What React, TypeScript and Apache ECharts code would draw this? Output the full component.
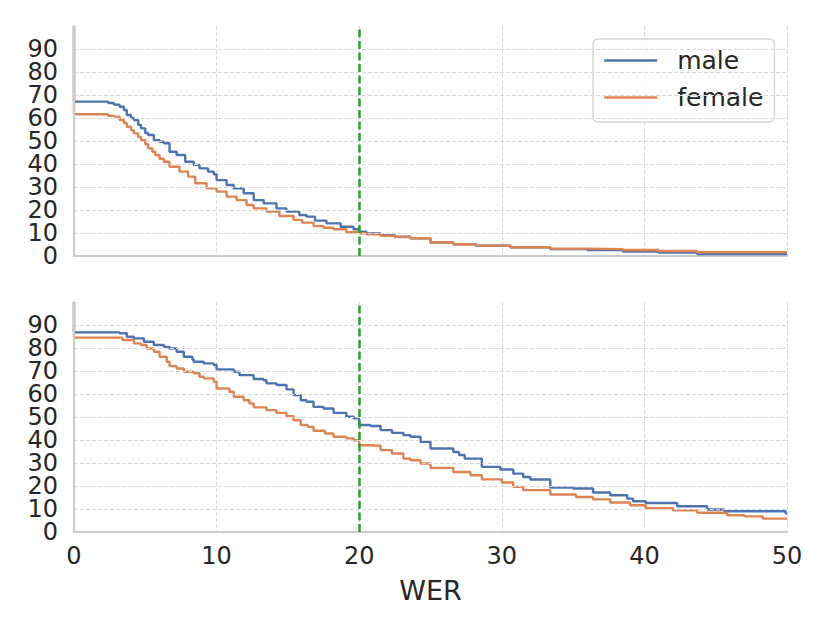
import React, { useEffect, useRef } from "react";
import * as echarts from "echarts";

// WER breakpoints and survival values (% of speakers with WER above x)
const topMaleX = [0, 0, 2.4, 2.8, 3.2, 3.5, 3.7, 4.0, 4.2, 4.5, 4.7, 5.0, 5.2, 5.6, 6.0, 6.3, 6.7, 7.2, 7.8, 8.4, 8.8, 9.4, 9.8, 10.0, 10.7, 11.2, 11.9, 12.6, 13.3, 14.2, 14.9, 15.8, 16.3, 16.9, 17.7, 18.7, 19.6, 20.0, 20.5, 21.5, 22.5, 23.6, 25.0, 26.6, 28.2, 30.6, 33.4, 36.0, 38.5, 41.0, 43.7, 50];
const topMaleY = [100, 67.1, 66.5, 65.8, 64.9, 63.5, 61.3, 60.0, 59.1, 57.0, 55.5, 53.5, 52.6, 50.4, 49.7, 49.0, 45.3, 43.9, 41.0, 39.6, 38.1, 36.7, 35.5, 33.0, 30.9, 29.4, 27.3, 24.3, 22.9, 20.7, 19.3, 17.8, 17.1, 15.4, 14.2, 12.7, 11.6, 10.6, 9.8, 9.0, 8.4, 7.7, 5.9, 5.1, 4.5, 3.8, 3.0, 2.6, 1.9, 1.5, 0.9, 0.9];

const topFemaleX = [0, 0, 2.4, 2.8, 3.2, 3.5, 3.7, 4.0, 4.2, 4.5, 4.7, 5.0, 5.2, 5.5, 5.7, 6.0, 6.3, 6.7, 7.4, 8.0, 8.5, 9.3, 10.0, 10.7, 11.4, 12.1, 12.6, 13.5, 14.4, 15.4, 16.0, 16.8, 17.5, 18.2, 19.1, 20.0, 20.5, 21.5, 22.5, 23.6, 25.0, 26.6, 28.2, 30.6, 33.4, 36.0, 38.5, 41.0, 43.7, 50];
const topFemaleY = [100, 61.6, 61.0, 60.6, 59.1, 57.8, 56.2, 54.6, 53.3, 51.8, 50.4, 48.6, 46.8, 45.3, 43.9, 42.3, 41.0, 38.8, 36.7, 34.5, 31.6, 29.4, 28.0, 25.8, 24.3, 22.2, 20.7, 19.3, 17.4, 15.7, 14.5, 13.0, 12.3, 11.6, 10.3, 9.9, 9.4, 8.8, 8.2, 7.7, 5.9, 5.1, 4.5, 3.8, 3.2, 3.0, 2.6, 2.2, 1.6, 1.6];

const botMaleX = [0, 0, 3.2, 3.7, 4.2, 4.9, 5.6, 6.3, 6.7, 7.2, 7.7, 8.3, 8.4, 9.1, 9.8, 10.0, 11.2, 11.6, 12.6, 13.3, 13.5, 14.2, 14.9, 15.4, 15.9, 16.3, 16.8, 17.5, 18.2, 19.1, 19.6, 20.0, 20.8, 21.5, 22.3, 23.1, 23.6, 24.3, 25.0, 26.6, 27.0, 27.4, 28.6, 29.9, 30.8, 31.5, 32.0, 33.4, 35.0, 36.4, 37.6, 38.8, 39.2, 40.1, 42.3, 44.4, 45.6, 49.9, 50];
const botMaleY = [100, 86.8, 86.4, 84.9, 84.2, 82.7, 81.3, 80.5, 79.8, 78.4, 76.2, 75.0, 74.0, 73.3, 72.6, 70.7, 69.7, 68.2, 66.5, 66.0, 64.6, 63.9, 62.0, 59.5, 57.3, 56.6, 54.4, 53.7, 51.8, 50.1, 49.4, 46.5, 46.1, 44.3, 43.1, 42.1, 41.4, 39.2, 36.3, 34.8, 33.5, 31.9, 28.3, 27.2, 25.4, 23.9, 22.8, 19.3, 18.9, 17.2, 16.0, 14.5, 13.4, 12.6, 11.2, 9.8, 9.0, 8.1, 8.1];

const botFemaleX = [0, 0, 3.4, 4.2, 4.7, 5.1, 5.6, 6.0, 6.5, 6.7, 7.2, 7.7, 8.4, 8.8, 9.1, 9.8, 10.0, 10.9, 11.2, 11.9, 12.3, 12.6, 13.5, 14.2, 14.9, 15.4, 15.9, 16.4, 16.8, 17.6, 18.2, 19.1, 19.6, 20.0, 20.8, 21.5, 22.3, 23.1, 23.6, 24.3, 25.0, 26.6, 27.8, 28.6, 30.0, 30.8, 31.5, 33.4, 35.2, 36.4, 37.6, 39.0, 40.1, 42.0, 43.7, 45.8, 47.0, 48.3, 50];
const botFemaleY = [100, 84.5, 83.5, 82.0, 81.3, 79.8, 78.4, 76.2, 74.0, 72.1, 71.1, 69.7, 69.0, 67.5, 66.8, 65.3, 62.4, 61.0, 58.8, 57.3, 55.9, 54.2, 53.0, 51.8, 50.4, 48.6, 46.5, 45.7, 44.0, 42.8, 41.4, 40.7, 39.9, 37.7, 37.5, 35.6, 34.1, 31.9, 31.2, 29.8, 27.9, 26.1, 24.7, 22.9, 21.5, 19.6, 18.2, 16.3, 15.2, 14.2, 12.8, 11.6, 10.4, 9.4, 8.4, 7.3, 6.8, 5.8, 5.8];

const seriesNames = ["male", "female"];
const yTicks = { min: 0, max: 100, interval: 10 };
const xTicks = { min: 0, max: 50, interval: 10 };
const thresholdWER = 20;

const zip = (xs: number[], ys: number[]) => xs.map((x, i) => [x, ys[i]]);

const BLUE = "#4c72b0";
const ORANGE = "#dd8452";
const GREEN = "#2ca02c";
const TEXT = "#262626";
const FONT = "DejaVu Sans";

export default function App() {
  const ref = useRef<HTMLDivElement>(null);
  useEffect(() => {
    if (!ref.current) return;
    const chart = echarts.init(ref.current, undefined, { renderer: "svg" });
    const gridLine = { show: true, showMinLine: false, lineStyle: { color: "#dadada", type: [4, 2] as any, width: 1 } };
    const axisLine = { show: true, lineStyle: { color: "#cccccc", width: 2 } };
    const yLabelBase = { color: TEXT, fontFamily: FONT, fontSize: 24, margin: 16, hideOverlap: false };
    const mkX = (idx: number, labels: boolean) => ({
      type: "value",
      gridIndex: idx,
      min: xTicks.min,
      max: xTicks.max,
      interval: xTicks.interval,
      axisLine,
      axisTick: { show: false },
      splitLine: gridLine,
      axisLabel: { show: labels, color: TEXT, fontSize: 24, fontFamily: FONT, margin: 12, showMinLabel: true, showMaxLabel: true },
      ...(labels
        ? {
            name: "WER",
            nameLocation: "middle",
            nameGap: 45,
            nameTextStyle: { color: TEXT, fontSize: 27, fontFamily: FONT },
          }
        : {}),
    });
    // main y axis: spine, grid lines and labels 10..90
    const mkY = (idx: number) => ({
      type: "value",
      gridIndex: idx,
      position: "left",
      min: yTicks.min,
      max: yTicks.max,
      interval: yTicks.interval,
      z: 5,
      axisLine,
      axisTick: { show: false },
      splitLine: { ...gridLine, showMaxLine: false },
      axisLabel: { ...yLabelBase, showMinLabel: false, showMaxLabel: false },
    });
    // companion y axis on the same scale carrying only the "0" tick label
    const mkY0 = (idx: number) => ({
      type: "value",
      gridIndex: idx,
      position: "left",
      offset: 0,
      min: yTicks.min,
      max: yTicks.max,
      interval: yTicks.interval,
      axisLine: { show: false },
      axisTick: { show: false },
      splitLine: { show: false },
      axisLabel: {
        ...yLabelBase,
        showMinLabel: true,
        showMaxLabel: false,
        formatter: (v: number) => (v === yTicks.min ? String(v) : ""),
      },
    });
    const mkSeries = (name: string, color: string, data: number[][], idx: number, mark: boolean) => ({
      name,
      type: "line",
      step: "end",
      xAxisIndex: idx,
      yAxisIndex: idx,
      data,
      symbol: "none",
      showSymbol: false,
      lineStyle: { color, width: 2.4 },
      itemStyle: { color },
      markLine: mark
        ? {
            silent: true,
            symbol: "none",
            label: { show: false },
            lineStyle: { color: GREEN, width: 2.5, type: [8, 3.5] as any },
            data: [{ xAxis: thresholdWER }],
          }
        : undefined,
    });
    chart.setOption({
      animation: false,
      backgroundColor: "#ffffff",
      grid: [
        { left: 74, right: 43, top: 26, height: 230 },
        { left: 74, right: 43, top: 302, height: 230 },
      ],
      xAxis: [mkX(0, false), mkX(1, true)],
      yAxis: [mkY(0), mkY(1), mkY0(0), mkY0(1)],
      legend: {
        data: seriesNames,
        orient: "vertical",
        left: 593,
        top: 39,
        itemWidth: 53,
        itemHeight: 14,
        itemGap: 12,
        padding: [9, 11, 12, 10],
        backgroundColor: "rgba(255,255,255,0.85)",
        borderColor: "#d6d6d6",
        borderWidth: 1.5,
        borderRadius: 5,
        itemStyle: { opacity: 0 },
        lineStyle: { width: 2.4 },
        textStyle: { color: TEXT, fontSize: 25, fontFamily: FONT, lineHeight: 25, padding: [0, 0, 0, 15] },
      },
      series: [
        mkSeries(seriesNames[0], BLUE, zip(topMaleX, topMaleY), 0, false),
        mkSeries(seriesNames[1], ORANGE, zip(topFemaleX, topFemaleY), 0, true),
        mkSeries(seriesNames[0], BLUE, zip(botMaleX, botMaleY), 1, false),
        mkSeries(seriesNames[1], ORANGE, zip(botFemaleX, botFemaleY), 1, true),
      ],
    });
    return () => chart.dispose();
  }, []);
  return (
    <div
      ref={ref}
      style={{ position: "fixed", left: 0, top: 0, width: 830, height: 632, background: "#fff" }}
    />
  );
}
